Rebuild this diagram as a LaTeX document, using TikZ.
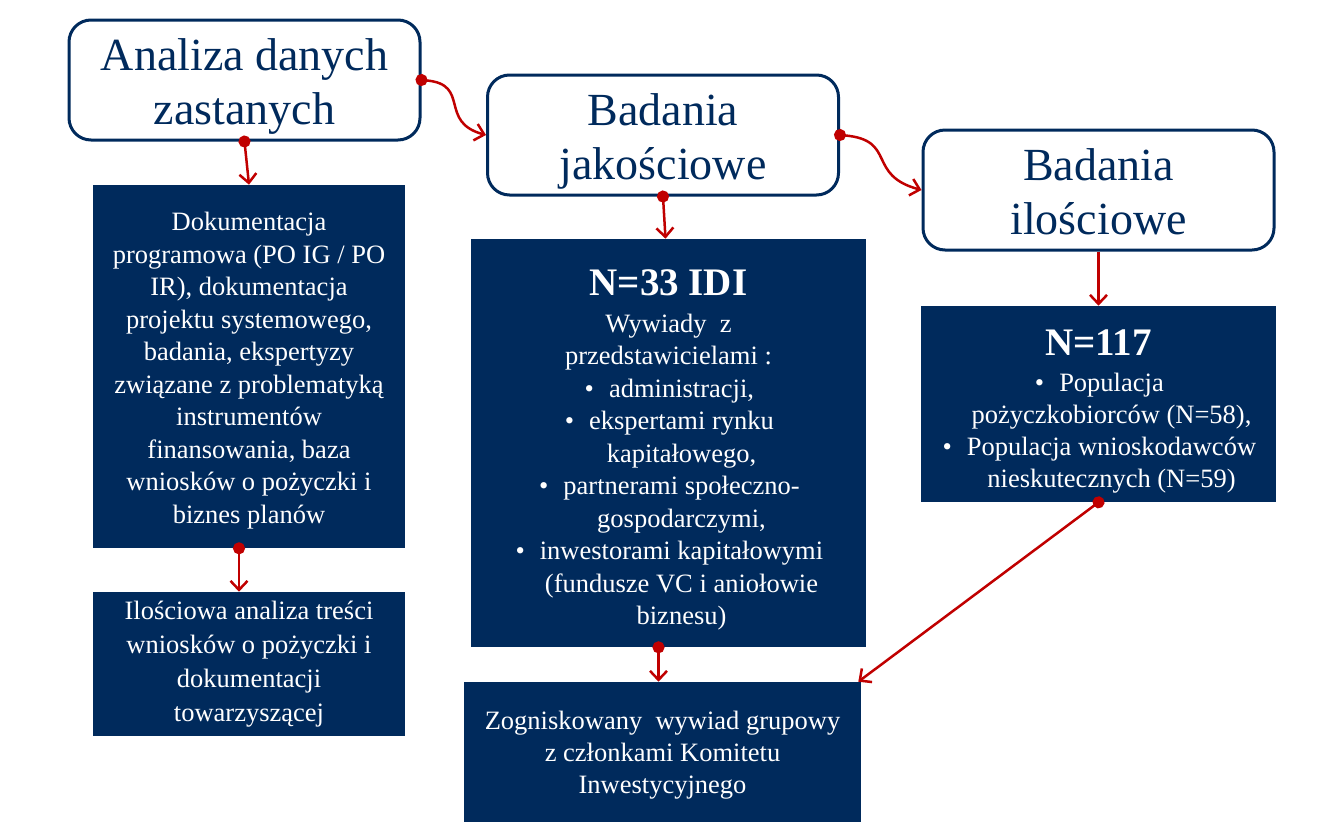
\documentclass[tikz,border=0pt]{standalone}
\usepackage{fontspec}
\setmainfont{Liberation Serif}
\usetikzlibrary{arrows.meta}
\definecolor{granat}{RGB}{0,42,92}
\definecolor{czerwony}{RGB}{192,0,0}
\newcommand{\tytul}[2]{\rule{0pt}{46pt}#1\\#2\rule[-12pt]{0pt}{12pt}}
\newcommand{\punkt}[1]{\hspace*{26pt}\llap{•\hspace{15pt}}#1}
\newcommand{\dalej}[1]{\hspace*{26pt}#1}
\newcommand{\gora}[1]{\rule{0pt}{#1}}

\begin{document}
\begin{tikzpicture}[x=1pt,y=-1pt,semithick,
                    >={Straight Barb[length=9pt,width=17pt]}]
  \tikzstyle{etap}=[draw=granat,line width=3pt,rounded corners=22pt,
    fill=white,text=granat,align=center,minimum width=351pt,
    minimum height=120pt,font=\fontsize{46}{54}\selectfont]
  \tikzstyle{opis}=[fill=granat,text=white,align=center,inner sep=0pt,
    font=\fontsize{26.5}{32.5}\selectfont]
  \tikzstyle{linia}=[draw=czerwony,line width=2.5pt,->]
  \tikzstyle{strzalka}=[linia,{Circle[length=12pt]}->,shorten <=-6pt]
  \useasboundingbox (0,0) rectangle (1338,836);

  % etapy badania
  \node[etap] (zastane) at (244.5,80)   {\tytul{Analiza danych}{zastanych}};
  \node[etap] (jakosc)  at (663,135)    {\tytul{Badania}{jako\'sciowe}};
  \node[etap] (ilosc)   at (1098.5,190) {\tytul{Badania}{ilo\'sciowe}};

  % opisy
  \node[opis,minimum width=312pt,minimum height=363pt] (dok) at (249,366.5)
    {\gora{27pt}Dokumentacja\\programowa (PO IG / PO\\IR), dokumentacja\\
     projektu systemowego,\\badania, ekspertyzy\\zwi\k{a}zane z problematyk\k{a}\\
     instrument\'ow\\finansowania, baza\\wniosk\'ow o po\.zyczki i\\biznes plan\'ow};
  \node[opis,minimum width=312pt,minimum height=144pt,
        font=\fontsize{26.5}{34}\selectfont] (tresc) at (249,664)
    {Ilo\'sciowa analiza tre\'sci\\wniosk\'ow o po\.zyczki i\\dokumentacji\\towarzysz\k{a}cej};
  \node[opis,minimum width=395pt,minimum height=408pt] (idi) at (668.5,443)
    {\gora{40pt}{\fontsize{39}{40}\selectfont\bfseries N=33 IDI}\\[4pt]
     Wywiady\ \ z\\przedstawicielami :\\
     \punkt{administracji,}\\\punkt{ekspertami rynku}\\\dalej{kapita\l{}owego,}\\
     \punkt{partnerami spo\l{}eczno-}\\\dalej{gospodarczymi,}\\
     \punkt{inwestorami kapita\l{}owymi}\\\dalej{(fundusze VC i anio\l{}owie}\\\dalej{biznesu)}};
  \node[opis,minimum width=397pt,minimum height=140pt,
        font=\fontsize{26.5}{32}\selectfont] (fgi) at (662.5,752)
    {\gora{25pt}Zogniskowany\ \ wywiad grupowy\\z cz\l{}onkami Komitetu\\Inwestycyjnego};
  \node[opis,minimum width=355pt,minimum height=196pt,
        font=\fontsize{26.5}{32}\selectfont] (cati) at (1098.5,404)
    {\gora{40pt}{\fontsize{39}{40}\selectfont\bfseries N=117}\\[4pt]
     \punkt{Populacja}\\\dalej{po\.zyczkobiorc\'ow (N=58),}\\
     \punkt{Populacja wnioskodawc\'ow}\\\dalej{nieskutecznych (N=59)}};

  % polaczenia
  \draw[strzalka] (zastane.east) to[out=-5,in=165,looseness=1.5] (jakosc.west);
  \draw[strzalka] (jakosc.east) to[out=-5,in=165,looseness=1.5] (ilosc.west);
  \draw[strzalka] (zastane.south) -- (dok.north);
  \draw[strzalka] ([xshift=-10pt]dok.south) -- ([xshift=-10pt]tresc.north);
  \draw[strzalka] (jakosc.south) -- ([xshift=-3pt]idi.north);
  \draw[strzalka] ([xshift=-10pt]idi.south) -- ([xshift=-4pt]fgi.north);
  \draw[linia] (ilosc.south) -- (cati.north);
  \draw[strzalka] (cati.south) -- ([xshift=-3pt]fgi.north east);
\end{tikzpicture}
\end{document}
